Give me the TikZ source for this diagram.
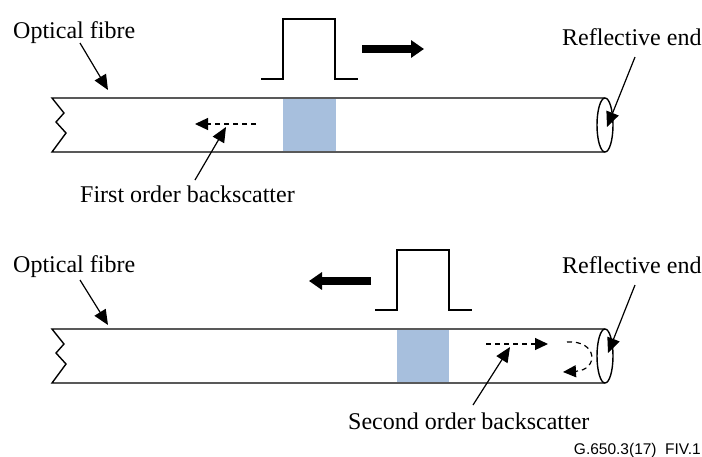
\documentclass[tikz,border=0pt]{standalone}
\usepackage{fontspec}
\setmainfont{Liberation Serif}
\newfontfamily\labelsans{Liberation Sans}
\usetikzlibrary{arrows.meta}
\tikzset{
  lbl/.style={inner sep=0pt, font=\fontsize{24}{28}\selectfont},
  fibreline/.style={line width=1.4pt, line join=miter},
  pulseline/.style={line width=1.3pt},
  pointer/.style={line width=1.2pt, -{Triangle[length=15pt,width=13pt]}},
  dasharrow/.style={line width=1.2pt, dash pattern=on 5pt off 4pt, -{Triangle[length=13pt,width=12pt]}},
  bigarrow/.style={line width=8pt, -{Triangle[length=13pt,width=17pt]}},
  slab/.style={fill={rgb,255:red,167;green,191;blue,221}, draw=none}
}
\begin{document}
\begin{tikzpicture}[x=1pt,y=-1pt]
\useasboundingbox (0,0) rectangle (702,456);

% ---------- top panel ----------
\fill[slab] (283,98.7) rectangle (336,151.3);
\draw[fibreline] (605,98) -- (52,98) -- (64,113) -- (56,122) -- (66,133) -- (52,152) -- (605,152);
\draw[fibreline] (605,125) ellipse [x radius=8, y radius=27];
\draw[pulseline] (261,79) -- (283,79) -- (283,19) -- (335,19) -- (335,79) -- (358,79);
\coordinate (bigR0) at (362,49);
\coordinate (bigR1) at (424,49);
\draw[bigarrow] (bigR0) -- (bigR1);

\node[lbl, anchor=base west] (of1) at (13,38) {Optical fibre};
\coordinate (of1s) at (80,43);
\coordinate (of1t) at (108,90);
\draw[pointer] (of1s) -- (of1t);

\node[lbl, anchor=base west] (re1) at (562,45) {Reflective end};
\coordinate (re1s) at (635,57);
\coordinate (re1t) at (607,127);
\draw[pointer] (re1s) -- (re1t);

\coordinate (bs1a) at (256,124);
\coordinate (bs1b) at (195,124);
\draw[dasharrow] (bs1a) -- (bs1b);

\node[lbl, anchor=base west] (fo) at (80,202) {First order backscatter};
\coordinate (fos) at (195,180);
\coordinate (fot) at (226,127);
\draw[pointer] (fos) -- (fot);

% ---------- bottom panel ----------
\fill[slab] (397,329.7) rectangle (449,382.3);
\draw[fibreline] (605,329) -- (52,329) -- (64,344) -- (56,353) -- (66,364) -- (52,383) -- (605,383);
\draw[fibreline] (605,356) ellipse [x radius=8, y radius=27];
\draw[pulseline] (375,310) -- (397,310) -- (397,250) -- (449,250) -- (449,310) -- (472,310);
\coordinate (bigL0) at (371,281);
\coordinate (bigL1) at (309,281);
\draw[bigarrow] (bigL0) -- (bigL1);

\node[lbl, anchor=base west] (of2) at (13,272) {Optical fibre};
\coordinate (of2s) at (80,280);
\coordinate (of2t) at (108,325);
\draw[pointer] (of2s) -- (of2t);

\node[lbl, anchor=base west] (re2) at (562,273) {Reflective end};
\coordinate (re2s) at (635,285);
\coordinate (re2t) at (608,353);
\draw[pointer] (re2s) -- (re2t);

\coordinate (bs2a) at (486,344);
\coordinate (bs2b) at (548,344);
\draw[dasharrow] (bs2a) -- (bs2b);
\coordinate (rf0) at (567,342);
\coordinate (rf1) at (563,372);
\draw[dasharrow] (rf0) .. controls (598,340) and (599,370) .. (rf1);

\node[lbl, anchor=base west] (so) at (348,429) {Second order backscatter};
\coordinate (sos) at (473,405);
\coordinate (sot) at (510,347);
\draw[pointer] (sos) -- (sot);

\node[inner sep=0pt, anchor=base east, font=\labelsans\fontsize{15.5}{18}\selectfont] (fig) at (701,454) {G.650.3(17)\hspace{0.55em}FIV.1};
\end{tikzpicture}
\end{document}
